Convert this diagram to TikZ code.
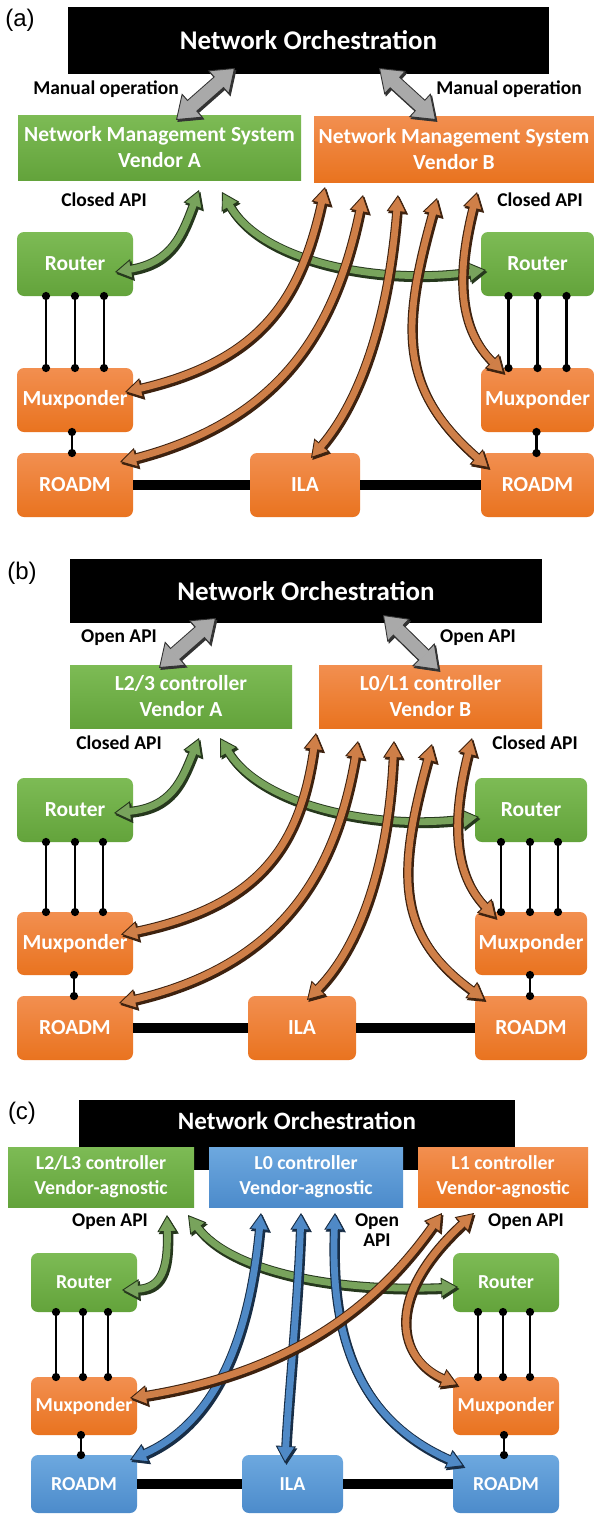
\documentclass[tikz,border=0pt]{standalone}
\usepackage{fontspec}
\setmainfont{Carlito}
\newfontfamily\panelfont{Liberation Sans}
\usetikzlibrary{arrows.meta,calc}

% box fills (top / bottom of the gradient)
\definecolor{grnT}{HTML}{7DBB55}
\definecolor{grnB}{HTML}{63A33B}
\definecolor{orgT}{HTML}{F28F50}
\definecolor{orgB}{HTML}{E9731F}
\definecolor{bluT}{HTML}{6DA8DF}
\definecolor{bluB}{HTML}{4C8BCB}
% ribbon arrows: fill and outline
\definecolor{rg}{HTML}{78A35C}
\definecolor{rgD}{HTML}{26381D}
\definecolor{ro}{HTML}{CF7F48}
\definecolor{roD}{HTML}{3E220F}
\definecolor{rb}{HTML}{4F89C6}
\definecolor{rbD}{HTML}{182E47}
\definecolor{rk}{HTML}{A9A9A9}
\definecolor{rkD}{HTML}{333333}

\tikzset{
  every node/.style={inner sep=0pt, outer sep=0pt},
  txt/.style={font=\fontsize{21.5}{26}\selectfont\bfseries, text=white, align=center},
  txtc/.style={font=\fontsize{19.8}{25}\selectfont\bfseries, text=white, align=center},
  orch/.style={fill=black, text=white, font=\fontsize{27}{30}\selectfont\bfseries},
  ctl/.style={txt},
  ctlgreen/.style={top color=grnT, bottom color=grnB},
  ctlorange/.style={top color=orgT, bottom color=orgB},
  ctlblue/.style={top color=bluT, bottom color=bluB},
  ne/.style={rounded corners=7pt, minimum width=116pt, minimum height=64pt},
  lab/.style={font=\fontsize{19.5}{21}\selectfont\bfseries, text=black, align=center},
  plab/.style={font=\panelfont\fontsize{24}{26}\selectfont},
  link/.style={line width=2.8pt, {Circle[length=8pt]}-{Circle[length=8pt]},
               shorten <=-4pt, shorten >=-4pt},
  fiber/.style={line width=9.5pt},
  tipR/.style={arrows={Triangle[width=20pt,length=17pt,fill=#1,line width=0.9pt]-Triangle[width=20pt,length=17pt,fill=#1,line width=0.9pt]}},
  tipW/.style={arrows={Triangle[width=32pt,length=22pt,fill=#1,line width=0.9pt]-Triangle[width=32pt,length=22pt,fill=#1,line width=0.9pt]}},
  extrude/.style={transform canvas={xshift=1.4pt, yshift=-1.9pt}},
}

% curved double-headed ribbon arrow with a dark extruded side: #1 fill, #2 outline, #3 path
\newcommand\ribbon[3]{%
  \draw[extrude, line width=0.8pt, draw=#2, tipR=#2] #3;
  \draw[extrude, line width=9pt, draw=#2, shorten <=16.5pt, shorten >=16.5pt] #3;
  \draw[line width=0.8pt, draw=#2, tipR=#1] #3;
  \draw[line width=9pt, draw=#2, shorten <=16.5pt, shorten >=16.5pt] #3;
  \draw[line width=6.8pt, draw=#1, shorten <=15.4pt, shorten >=15.4pt] #3;
}
% wide straight double arrow between orchestration and controllers
\newcommand\wide[1]{%
  \draw[extrude, line width=0.8pt, draw=rkD, tipW=rkD] #1;
  \draw[extrude, line width=15pt, draw=rkD, shorten <=21.5pt, shorten >=21.5pt] #1;
  \draw[line width=0.8pt, draw=rkD, tipW=rk] #1;
  \draw[line width=15pt, draw=rkD, shorten <=21.5pt, shorten >=21.5pt] #1;
  \draw[line width=13pt, draw=rk, shorten <=20.3pt, shorten >=20.3pt] #1;
}

\begin{document}
\begin{tikzpicture}[x=1pt, y=-1pt]
\useasboundingbox[fill=white] (0,0) rectangle (594,1515);

% ================= (a) =================
\node[plab] (labA) at (20,20) {(a)};
\node[orch, minimum width=481pt, minimum height=67pt] (orchA) at (308.5,40.5) {Network Orchestration};
\node[ctl, ctlgreen, minimum width=283pt, minimum height=65pt] (nmsA) at (159.5,147.5) {Network Management System\\Vendor A};
\node[ctl, ctlorange, minimum width=280pt, minimum height=66pt] (nmsB) at (454,149) {Network Management System\\Vendor B};
\node[lab] (manA) at (106,89) {Manual operation};
\node[lab] (manB) at (509,89) {Manual operation};
\node[lab] (clA) at (104,200) {Closed API};
\node[lab] (clB) at (540,200) {Closed API};

\node[ne, txt, ctlgreen] (rLa) at (75,264) {Router};
\node[ne, txt, ctlgreen, minimum width=113pt] (rRa) at (537.5,264) {Router};
\node[ne, txt, ctlorange] (mLa) at (75,400) {Muxponder};
\node[ne, txt, ctlorange, minimum width=113pt] (mRa) at (537.5,400) {Muxponder};
\node[ne, txt, ctlorange] (oLa) at (75,485) {ROADM};
\node[ne, txt, ctlorange, minimum width=110pt] (iLa) at (305,485) {ILA};
\node[ne, txt, ctlorange, minimum width=113pt] (oRa) at (537.5,485) {ROADM};

\foreach \d in {-29,0,29} \draw[link] ($(rLa.south)+(\d,0)$) -- ($(mLa.north)+(\d,0)$);
\foreach \d in {-29,0,29} \draw[link] ($(rRa.south)+(\d,0)$) -- ($(mRa.north)+(\d,0)$);
\draw[link] ($(mLa.south)+(-3,0)$) -- ($(oLa.north)+(-3,0)$);
\draw[link] ($(mRa.south)+(-1,0)$) -- ($(oRa.north)+(-1,0)$);
\draw[fiber] (oLa.east) -- (iLa.west);
\draw[fiber] (iLa.east) -- (oRa.west);

\wide{($(orchA.south)+(-73.5,-6)$) -- ($(nmsA.north)+(16.5,5)$)}
\wide{($(orchA.south)+(70.5,-6)$) -- ($(nmsB.north)+(-18,4)$)}

\ribbon{rg}{rgD}{($(nmsA.south)+(39.5,10)$) .. controls (182,235) and (172,262) .. ($(rLa.east)+(-18,8)$)}
\ribbon{rg}{rgD}{($(nmsA.south)+(62.5,12)$) .. controls (262,262) and (380,285) .. ($(rRa.west)+(5,6)$)}
\ribbon{ro}{roD}{($(nmsB.south)+(-129,5)$) .. controls (300,300) and (260,360) .. ($(mLa.east)+(-8,-8)$)}
\ribbon{ro}{roD}{($(nmsB.south)+(-91,13)$) .. controls (335,330) and (280,420) .. ($(oLa.east)+(-13,-23)$)}
\ribbon{ro}{roD}{($(nmsB.south)+(-56,13)$) .. controls (388,320) and (360,400) .. ($(iLa.north)+(6,5)$)}
\ribbon{ro}{roD}{($(nmsB.south)+(-17,16)$) .. controls (400,330) and (400,390) .. ($(oRa.north west)+(8,15)$)}
\ribbon{ro}{roD}{($(nmsB.south)+(23,10)$) .. controls (455,280) and (460,330) .. ($(mRa.north west)+(23,5)$)}

% ================= (b) =================
\node[plab] (labB) at (22,573) {(b)};
\node[orch, minimum width=472pt, minimum height=64pt] (orchB) at (306,591) {Network Orchestration};
\node[ctl, ctlgreen, minimum width=222pt, minimum height=63pt] (ctlA) at (181,696.5) {L2/3 controller\\Vendor A};
\node[ctl, ctlorange, minimum width=223pt, minimum height=63pt] (ctlB) at (430.5,696.5) {L0/L1 controller\\Vendor B};
\node[lab] (opA) at (119,638) {Open API};
\node[lab] (opB) at (478,638) {Open API};
\node[lab] (clAb) at (119,743) {Closed API};
\node[lab] (clBb) at (535,743) {Closed API};

\node[ne, txt, ctlgreen] (rLb) at (75,810) {Router};
\node[ne, txt, ctlgreen, minimum width=112pt] (rRb) at (531,810) {Router};
\node[ne, txt, ctlorange, minimum height=63pt] (mLb) at (75,943.5) {Muxponder};
\node[ne, txt, ctlorange, minimum width=112pt, minimum height=63pt] (mRb) at (531,943.5) {Muxponder};
\node[ne, txt, ctlorange] (oLb) at (75,1028) {ROADM};
\node[ne, txt, ctlorange, minimum width=108pt] (iLb) at (302,1028) {ILA};
\node[ne, txt, ctlorange, minimum width=112pt] (oRb) at (531,1028) {ROADM};

\foreach \d in {-29,0,28} \draw[link] ($(rLb.south)+(\d,0)$) -- ($(mLb.north)+(\d,0)$);
\foreach \d in {-30,-1,27} \draw[link] ($(rRb.south)+(\d,0)$) -- ($(mRb.north)+(\d,0)$);
\draw[link] ($(mLb.south)+(-1,0)$) -- ($(oLb.north)+(-1,0)$);
\draw[link] ($(mRb.south)+(-1,0)$) -- ($(oRb.north)+(-1,0)$);
\draw[fiber] (oLb.east) -- (iLb.west);
\draw[fiber] (iLb.east) -- (oRb.west);

\wide{($(orchB.south)+(-90,-5)$) -- ($(ctlA.north)+(-22,3)$)}
\wide{($(orchB.south)+(77,-8)$) -- ($(ctlB.north)+(8.5,5)$)}

\ribbon{rg}{rgD}{($(ctlA.south)+(18,10)$) .. controls (182,780) and (172,807) .. ($(rLb.east)+(-19,3)$)}
\ribbon{rg}{rgD}{($(ctlA.south)+(39,10)$) .. controls (262,807) and (380,830) .. ($(rRb.west)+(4,7)$)}
\ribbon{ro}{roD}{($(ctlB.south)+(-114.5,5)$) .. controls (300,845) and (260,905) .. ($(mLb.east)+(-12,-9)$)}
\ribbon{ro}{roD}{($(ctlB.south)+(-72.5,13)$) .. controls (335,875) and (280,965) .. ($(oLb.east)+(-14,-25)$)}
\ribbon{ro}{roD}{($(ctlB.south)+(-36.5,13)$) .. controls (388,865) and (360,945) .. ($(iLb.north)+(5,4)$)}
\ribbon{ro}{roD}{($(ctlB.south)+(1.5,16)$) .. controls (396,875) and (396,935) .. ($(oRb.north west)+(10,4)$)}
\ribbon{ro}{roD}{($(ctlB.south)+(41.5,10)$) .. controls (450,825) and (455,875) .. ($(mRb.north west)+(21,6)$)}

% ================= (c) =================
\node[plab] (labC) at (22,1113) {(c)};
\node[fill=black, minimum width=436pt, minimum height=70pt] (orchC) at (297,1135) {};
\node[orch, font=\fontsize{25}{28}\selectfont\bfseries] (orchCt) at (297,1121) {Network Orchestration};
\node[txtc, ctlgreen, minimum width=186pt, minimum height=60pt] (cL23) at (101,1177) {L2/L3 controller\\Vendor-agnostic};
\node[txtc, ctlblue, minimum width=194pt, minimum height=60pt] (cL0) at (306,1177) {L0 controller\\Vendor-agnostic};
\node[txtc, ctlorange, minimum width=170pt, minimum height=60pt] (cL1) at (503,1177) {L1 controller\\Vendor-agnostic};
\node[lab] (opC1) at (110,1222) {Open API};
\node[lab, font=\fontsize{19.5}{20}\selectfont\bfseries] (opC2) at (377,1230) {Open\\API};
\node[lab] (opC3) at (526,1222) {Open API};

\tikzset{nec/.style={ne, txtc, minimum width=106pt, minimum height=59pt}}
\node[nec, ctlgreen] (rLc) at (84,1282.5) {Router};
\node[nec, ctlgreen] (rRc) at (506,1282.5) {Router};
\node[nec, ctlorange, minimum height=58pt] (mLc) at (84,1406) {Muxponder};
\node[nec, ctlorange, minimum height=58pt] (mRc) at (506,1406) {Muxponder};
\node[nec, ctlblue, minimum height=58pt] (oLc) at (84,1484) {ROADM};
\node[nec, ctlblue, minimum width=101pt, minimum height=58pt] (iLc) at (292.5,1484) {ILA};
\node[nec, ctlblue, minimum height=58pt] (oRc) at (506,1484) {ROADM};

\foreach \d in {-28,-1,24} \draw[link] ($(rLc.south)+(\d,0)$) -- ($(mLc.north)+(\d,0)$);
\foreach \d in {-28,-3,24} \draw[link] ($(rRc.south)+(\d,0)$) -- ($(mRc.north)+(\d,0)$);
\draw[link] ($(mLc.south)+(-3,0)$) -- ($(oLc.north)+(-3,0)$);
\draw[link] ($(mRc.south)+(-2,0)$) -- ($(oRc.north)+(-2,0)$);
\draw[fiber] (oLc.east) -- (iLc.west);
\draw[fiber] (iLc.east) -- (oRc.west);

\ribbon{rg}{rgD}{($(cL23.south)+(66,8)$) .. controls (168,1262) and (165,1288) .. ($(rLc.east)+(-15,7.5)$)}
\ribbon{rg}{rgD}{($(cL23.south)+(87,8)$) .. controls (230,1270) and (330,1292) .. ($(rRc.west)+(5,4.5)$)}
\ribbon{rb}{rbD}{($(cL0.south)+(-45,6)$) .. controls (250,1330) and (220,1420) .. ($(oLc.east)+(-7,-24)$)}
\ribbon{rb}{rbD}{($(cL0.south)+(-5,6)$) .. controls (298,1300) and (288,1400) .. ($(iLc.north)+(-7.5,8)$)}
\ribbon{rb}{rbD}{($(cL0.south)+(29,6)$) .. controls (330,1340) and (360,1420) .. ($(oRc.north west)+(11,11)$)}
\ribbon{ro}{roD}{($(cL1.south)+(-61,6)$) .. controls (380,1300) and (300,1370) .. ($(mLc.east)+(-7,-8)$)}
\ribbon{ro}{roD}{($(cL1.south)+(-29,6)$) .. controls (380,1300) and (400,1360) .. ($(mRc.north west)+(5,8)$)}
\end{tikzpicture}
\end{document}
